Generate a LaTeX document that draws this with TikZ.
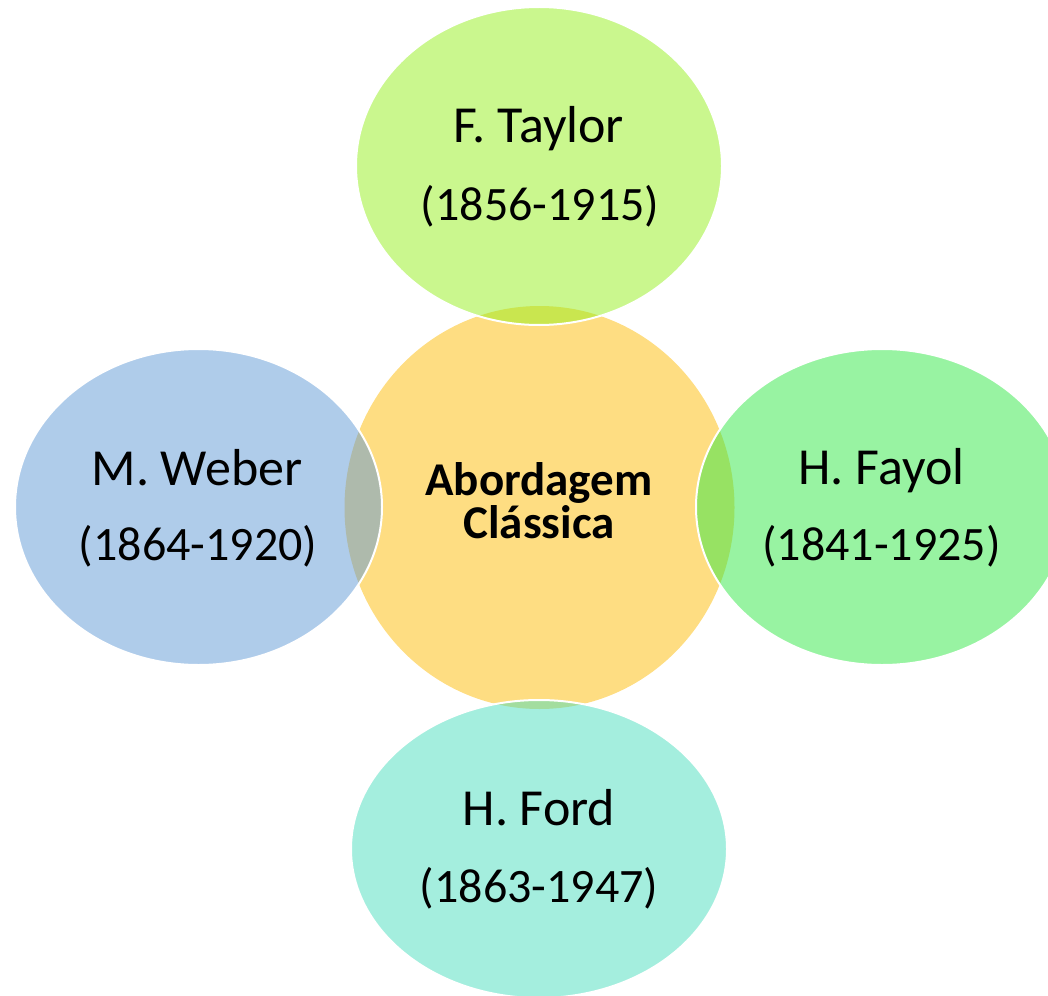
\documentclass[tikz,border=0pt]{standalone}
\usepackage{fontspec}
\setmainfont{Carlito}
\usetikzlibrary{shapes.geometric}
\definecolor{ccenter}{RGB}{254,221,130}
\definecolor{ctaylor}{RGB}{149,239,29}
\definecolor{cweber}{RGB}{96,153,214}
\definecolor{cfayol}{RGB}{49,231,70}
\definecolor{cford}{RGB}{73,221,189}
\tikzset{
  blob/.style={ellipse, inner sep=0pt, outer sep=0pt},
  sat/.style={blob, fill opacity=0.5, draw=white, draw opacity=1, line width=2pt},
  lbl/.style={anchor=base, inner sep=0pt, font=\fontsize{48pt}{58pt}\selectfont},
  nlbl/.style={anchor=base, inner sep=0pt, font=\fontsize{52pt}{62pt}\selectfont},
  clbl/.style={anchor=base, inner sep=0pt, font=\fontsize{47pt}{56pt}\selectfont\bfseries}
}
\begin{document}
\begin{tikzpicture}[x=1pt,y=-1pt]
\useasboundingbox (0,0) rectangle (1048,995);
\clip (0,0) rectangle (1048,995);
\node[blob, fill=ccenter, minimum width=390pt, minimum height=403pt] (center) at (539.5,507.5) {};
\node[sat, fill=ctaylor, minimum width=366pt, minimum height=318pt] (taylor) at (539,166) {};
\node[sat, fill=cweber, minimum width=367pt, minimum height=316pt] (weber) at (198.5,507) {};
\node[sat, fill=cfayol, minimum width=372pt, minimum height=316pt] (fayol) at (882,507) {};
\node[sat, fill=cford, minimum width=376pt, minimum height=298pt] (ford) at (539,849) {};
\node[clbl] (c1) at (539,495) {Abordagem};
\node[clbl] (c2) at (539,538) {Clássica};
\node[nlbl] (t1) at (539,143) {F. Taylor};
\node[lbl] (t2) at (540,220) {(1856-1915)};
\node[nlbl] (w1) at (197,485) {M. Weber};
\node[lbl] (w2) at (198,560) {(1864-1920)};
\node[nlbl] (f1) at (881.5,484) {H. Fayol};
\node[lbl] (f2) at (881.5,560) {(1841-1925)};
\node[nlbl] (d1) at (539,825) {H. Ford};
\node[lbl] (d2) at (539,902) {(1863-1947)};
\end{tikzpicture}
\end{document}
